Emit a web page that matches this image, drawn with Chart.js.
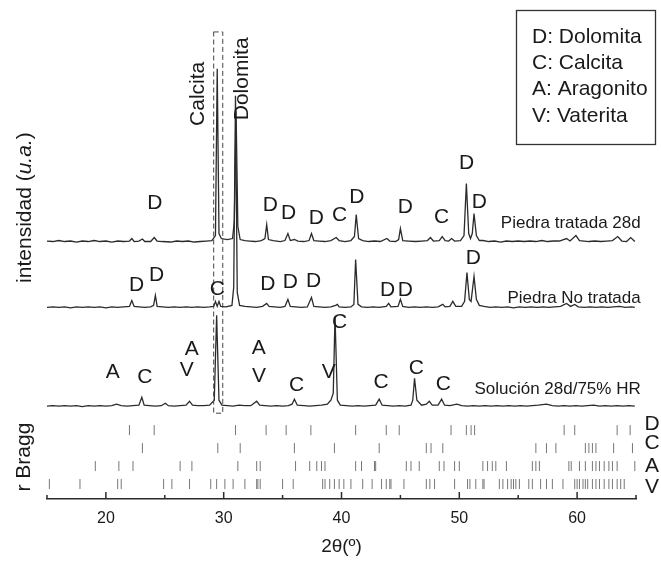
<!DOCTYPE html>
<html>
<head>
<meta charset="utf-8">
<title>DRX</title>
<script src="https://cdn.jsdelivr.net/npm/chart.js@4.4.0/dist/chart.umd.min.js"></script>
<style>
  html, body { margin: 0; padding: 0; background: #fff; }
  #wrap { width: 661px; height: 567px; }
</style>
</head>
<body>
<div id="wrap"><canvas id="xrd" width="661" height="567"></canvas></div>
<script>
/* ================= DATA ================= */

// 2θ axis
const xMin = 15, xMax = 65;
const xTickValues = [15, 20, 25, 30, 35, 40, 45, 50, 55, 60, 65];

// patterns: [2θ, intensity above its own baseline] (u.a.)
const treated28d = [
  [15.0,0.5],[15.5,0],[16.0,1],[16.5,0],[17.0,0.5],[17.5,-0.5],[18.0,0.5],[18.5,0],[19.0,1],[19.5,0],
  [20.0,0.5],[20.5,-0.5],[21.0,0.5],[21.5,0],[22.0,0.5],[22.2,3],[22.4,0],[22.8,0.5],[23.1,2.5],[23.3,0],
  [23.8,0],[24.1,4],[24.35,0.5],[24.8,0],[25.5,-0.5],[26.0,0.5],[26.5,0],[27.0,0.5],[27.5,-0.5],[28.0,0],
  [28.5,0.5],[29.0,1],[29.3,6],[29.45,173],[29.6,8],[29.8,3],[30.3,2],[30.75,3],[30.9,20],[31.05,131],
  [31.2,15],[31.4,2],[31.8,1],[32.2,0.5],[32.7,0],[33.2,1],[33.5,3],[33.65,17],[33.8,2],[34.2,1],
  [34.8,0],[35.2,1],[35.45,8],[35.65,1],[36.0,2],[36.3,0.5],[36.8,0],[37.25,1],[37.45,8],[37.65,1],
  [38.1,0.5],[38.6,0],[39.1,1],[39.55,4],[39.8,1],[40.3,0],[40.8,1],[41.1,5],[41.25,27],[41.45,3],
  [41.8,1],[42.3,0],[42.8,0.5],[43.3,0],[43.85,3],[44.1,0.5],[44.6,0],[44.85,2],[45.0,13],[45.2,1],
  [45.7,0.5],[46.3,0],[46.8,0.5],[47.3,1],[47.55,4],[47.8,0.5],[48.3,1],[48.55,5],[48.8,1],[49.1,0.5],
  [49.35,3],[49.6,0.5],[50.1,1],[50.4,6],[50.6,58],[50.8,8],[50.95,3],[51.1,8],[51.25,28],[51.45,6],
  [51.7,1],[52.0,1],[52.5,0],[53.0,0.5],[53.5,-0.5],[54.0,0.5],[54.5,0],[55.0,0.5],[55.5,0],[56.0,0.5],
  [56.5,0],[57.0,1],[57.5,0],[58.0,0.5],[58.5,0.5],[59.1,3],[59.4,0.5],[59.9,6],[60.2,1],[60.6,0.5],
  [61.0,0],[61.5,0.5],[62.0,0],[62.5,0.5],[63.0,1],[63.45,5],[63.8,0.5],[64.2,0],[64.55,4],[64.9,0]
];

const untreated = [
  [15.0,0],[15.5,0.5],[16.0,0],[16.5,0.5],[17.0,-0.5],[17.5,0.5],[18.0,0],[18.5,0.5],[19.0,0],[19.5,0.5],
  [20.0,-0.5],[20.5,0.5],[21.0,0],[21.5,0.5],[22.0,1],[22.2,7],[22.4,1],[22.8,0.5],[23.3,0],[23.8,0.5],
  [24.05,2],[24.2,12],[24.35,1],[24.8,0.5],[25.3,0],[25.8,0.5],[26.3,0],[26.8,0.5],[27.3,0],[27.8,0.5],
  [28.3,0],[28.8,0.5],[29.15,1],[29.3,6],[29.45,1],[29.6,6],[29.75,1],[30.2,0.5],[30.7,2],[30.85,20],
  [31.0,212],[31.15,15],[31.35,2],[31.8,1],[32.3,0.5],[32.8,0],[33.3,1],[33.65,4],[33.85,1],[34.3,0.5],
  [34.8,0],[35.2,1],[35.45,8],[35.65,1],[36.1,0.5],[36.6,0],[37.1,0.5],[37.45,10],[37.65,1],[38.1,0.5],
  [38.6,0],[39.1,0.5],[39.5,2],[39.65,3],[39.8,0.5],[40.3,0],[40.8,0.5],[41.05,3],[41.2,48],[41.4,3],
  [41.7,0.5],[42.2,0],[42.7,0.5],[43.2,0],[43.8,1],[44.0,4],[44.2,0.5],[44.8,1],[45.0,8],[45.2,1],
  [45.7,0],[46.2,0.5],[46.7,0],[47.2,0.5],[47.7,0],[48.2,0.5],[48.6,3],[48.8,0.5],[49.2,1],[49.45,6],
  [49.7,1],[50.2,1],[50.45,6],[50.65,35],[50.85,8],[51.0,6],[51.25,31],[51.45,8],[51.7,2],[52.1,1],
  [52.6,0],[53.1,0.5],[53.6,0],[54.1,0.5],[54.6,-0.5],[55.1,0.5],[55.6,0],[56.1,0.5],[56.6,0],[57.1,0.5],
  [57.6,0],[58.1,0.5],[58.6,1],[59.1,4],[59.45,1],[59.8,3],[60.1,0.5],[60.6,0],[61.1,0.5],[61.6,0],
  [62.1,0.5],[62.6,0],[63.1,0.5],[63.6,1],[64.1,0],[64.6,0.5],[64.9,0]
];

const solution28d = [
  [15.0,0],[15.5,0.5],[16.0,0],[16.5,0.5],[17.0,0],[17.5,0.5],[18.0,-0.5],[18.5,0.5],[19.0,0],[19.5,0.5],
  [20.0,0],[20.5,0.5],[20.9,2],[21.3,0.5],[21.8,0],[22.3,0.5],[22.8,1],[23.05,9],[23.25,1],[23.7,0.5],
  [24.2,0],[24.7,0.5],[25.05,3],[25.3,0.5],[25.8,0],[26.3,0.5],[26.8,1],[27.1,5],[27.35,1],[27.8,0.5],
  [28.3,0.5],[28.8,1],[29.2,6],[29.4,91],[29.6,6],[29.85,1],[30.3,0.5],[30.8,0],[31.3,1],[31.8,0.5],
  [32.3,0.5],[32.8,5],[33.05,1],[33.5,0.5],[34.0,0],[34.5,0.5],[35.0,0],[35.5,0.5],[35.8,2],[36.0,7],
  [36.25,1],[36.8,0.5],[37.3,0],[37.8,0.5],[38.3,1],[38.8,2],[39.1,6],[39.3,13],[39.45,90],[39.65,6],
  [39.9,1],[40.4,0.5],[40.9,0],[41.4,0.5],[41.9,0],[42.4,0.5],[42.9,1],[43.2,7],[43.45,1],[43.9,0.5],
  [44.4,0],[44.9,0.5],[45.4,0],[45.9,1],[46.05,6],[46.2,28],[46.4,6],[46.8,1],[47.2,2],[47.45,5],
  [47.7,1],[48.2,1],[48.5,7],[48.75,1],[49.2,0.5],[49.8,2],[50.2,0.5],[50.7,0],[51.2,0.5],[51.7,0],
  [52.2,0.5],[52.7,0],[53.2,0.5],[53.7,0],[54.2,0.5],[54.7,0],[55.2,0.5],[55.7,0],[56.2,0.5],[56.7,1],
  [57.4,2],[57.9,0.5],[58.4,0],[58.9,0.5],[59.4,0],[59.9,0.5],[60.4,0],[60.9,0.5],[61.4,1],[61.9,0],
  [62.4,0.5],[62.9,0],[63.4,0.5],[63.9,0],[64.4,0.5],[64.9,0]
];

// vertical offset of each stacked pattern (u.a.)
const offsetTreated = 258;
const offsetUntreated = 192;
const offsetSolution = 93;

// Bragg reflections (2θ) of each phase
const braggD = [22.0, 24.1, 31.0, 33.6, 35.3, 37.4, 41.2, 43.8, 44.9, 49.3, 50.6, 51.0, 51.3, 58.9, 59.8, 63.4, 64.5];
const braggC = [23.1, 29.5, 31.4, 36.0, 39.4, 43.2, 47.2, 47.6, 48.6, 56.5, 57.4, 58.2, 60.7, 61.0, 61.3, 61.6, 63.1, 64.7];
const braggA = [19.1, 21.1, 22.3, 26.3, 27.3, 31.2, 32.8, 33.1, 36.1, 37.3, 37.9, 38.3, 38.6,
  41.2, 41.7, 42.8, 42.9, 45.5, 45.9, 46.6, 48.3, 48.7, 49.6, 50.0, 52.0, 52.4, 52.8, 53.1, 54.0,
  56.2, 56.5, 56.8, 59.3, 59.5, 60.2, 60.7, 61.3, 61.6, 61.9, 62.3, 62.7, 63.0, 63.4, 64.9];
const braggV = [15.2, 17.8, 21.0, 21.3, 24.9, 25.6, 27.1, 28.9, 29.4, 30.1, 30.8, 31.8, 32.8, 32.9, 33.1,
  35.0, 35.9, 38.4, 38.6, 39.0, 39.4, 39.8, 40.2, 40.8, 41.8, 42.6, 43.4, 43.8, 44.1, 44.2, 45.3,
  47.2, 47.5, 47.9, 49.6, 50.7, 50.9, 51.4, 52.0, 52.1, 53.4, 53.7, 54.1, 54.4, 54.6, 54.8, 55.1,
  55.9, 56.2, 56.9, 57.4, 57.9, 58.8, 59.8, 60.0, 60.2, 60.5, 60.7, 60.9, 61.3, 61.6, 61.9, 62.3,
  62.7, 63.0, 63.4, 63.7, 64.0];
const braggRowD = 69, braggRowC = 51, braggRowA = 33, braggRowV = 15;

// phase letters over the peaks: [text, 2θ, height]
const peakLetters = [
  ['D', 24.15, 296], ['D', 33.96, 294], ['D', 35.51, 286], ['D', 37.86, 281], ['C', 39.83, 284],
  ['D', 41.3, 302], ['D', 45.42, 292], ['C', 48.5, 282], ['D', 50.62, 336], ['D', 51.69, 297],
  ['D', 22.6, 214], ['D', 24.3, 224], ['C', 29.47, 210], ['D', 33.75, 215], ['D', 35.65, 217],
  ['D', 37.63, 218], ['D', 43.92, 209], ['D', 45.42, 209], ['D', 51.19, 241],
  ['A', 20.59, 127], ['C', 23.31, 122], ['A', 27.29, 150], ['V', 26.86, 129], ['A', 32.97, 151],
  ['V', 33.0, 123], ['C', 36.19, 114], ['V', 38.92, 127], ['C', 39.83, 177], ['C', 43.35, 117],
  ['C', 46.36, 131], ['C', 48.64, 115]
];

const patternNames = [['Piedra tratada 28d', 276], ['Piedra No tratada', 201], ['Solución 28d/75% HR', 110]];
const legendLines = ['D: Dolomita', 'C: Calcita', 'A: Aragonito', 'V: Vaterita'];

/* ================= HELPERS ================= */

function shifted(profile, offset) {
  return profile.map(p => ({ x: p[0], y: p[1] + offset }));
}

function braggRow(list, row) {
  return list.map(v => ({ x: v, y: row }));
}

const FONT = "'Liberation Sans', Arial, Helvetica, sans-serif";
const INK = '#2b2b2b';

function traceSet(data) {
  return {
    data: data,
    showLine: true,
    borderColor: INK,
    borderWidth: 1.3,
    pointRadius: 0,
    tension: 0
  };
}

function tickSet(data) {
  return {
    data: data,
    showLine: false,
    pointStyle: 'line',
    rotation: 90,
    radius: 5,
    borderColor: '#777',
    borderWidth: 1,
    pointHoverRadius: 5
  };
}

/* ================= DECORATION PLUGIN ================= */

const decorations = {
  id: 'decorations',
  afterDatasetsDraw(chart) {
    const { ctx, chartArea } = chart;
    const xs = chart.scales.x, ys = chart.scales.y;
    ctx.save();

    // inward ticks on the 2θ axis
    ctx.strokeStyle = INK;
    ctx.lineWidth = 1.5;
    xTickValues.forEach(v => {
      const px = xs.getPixelForValue(v);
      const len = v % 10 === 0 ? 7 : 4;
      ctx.beginPath();
      ctx.moveTo(px, chartArea.bottom);
      ctx.lineTo(px, chartArea.bottom - len);
      ctx.stroke();
    });

    // dashed box around the main calcite reflection
    ctx.strokeStyle = '#444';
    ctx.lineWidth = 1;
    ctx.setLineDash([5, 3]);
    const bx0 = xs.getPixelForValue(29.15), bx1 = xs.getPixelForValue(29.92);
    const by0 = ys.getPixelForValue(468), by1 = ys.getPixelForValue(86);
    ctx.strokeRect(bx0, by0, bx1 - bx0, by1 - by0);
    ctx.setLineDash([]);

    ctx.fillStyle = '#1a1a1a';
    ctx.textAlign = 'center';
    ctx.textBaseline = 'middle';

    // phase letters
    ctx.font = '21px ' + FONT;
    peakLetters.forEach(l => {
      ctx.fillText(l[0], xs.getPixelForValue(l[1]), ys.getPixelForValue(l[2]));
    });

    // Bragg row letters
    const rx = chartArea.right + 16;
    [['D', 75], ['C', 56], ['A', 33], ['V', 12]].forEach(r => {
      ctx.fillText(r[0], rx, ys.getPixelForValue(r[1]));
    });

    // pattern names
    ctx.font = '17px ' + FONT;
    ctx.textAlign = 'right';
    patternNames.forEach(n => {
      ctx.fillText(n[0], xs.getPixelForValue(65.4), ys.getPixelForValue(n[1]));
    });

    // rotated phase names
    ctx.font = '21px ' + FONT;
    ctx.textAlign = 'center';
    [['Calcita', 27.8, 406], ['Dolomita', 31.55, 421]].forEach(t => {
      ctx.save();
      ctx.translate(xs.getPixelForValue(t[1]), ys.getPixelForValue(t[2]));
      ctx.rotate(-Math.PI / 2);
      ctx.fillText(t[0], 0, 0);
      ctx.restore();
    });

    // y titles
    ctx.save();
    ctx.translate(25, ys.getPixelForValue(292));
    ctx.rotate(-Math.PI / 2);
    const parts = [['intensidad (', '21px '], ['u.a.', 'italic 21px '], [')', '21px ']];
    let total = 0;
    parts.forEach(p => { ctx.font = p[1] + FONT; total += ctx.measureText(p[0]).width; });
    let cx = -total / 2;
    ctx.textAlign = 'left';
    parts.forEach(p => {
      ctx.font = p[1] + FONT;
      ctx.fillText(p[0], cx, 0);
      cx += ctx.measureText(p[0]).width;
    });
    ctx.restore();

    ctx.save();
    ctx.translate(24, ys.getPixelForValue(42));
    ctx.rotate(-Math.PI / 2);
    ctx.font = '21px ' + FONT;
    ctx.textAlign = 'center';
    ctx.fillText('r Bragg', 0, 0);
    ctx.restore();

    // legend box
    ctx.strokeStyle = '#333';
    ctx.lineWidth = 1.3;
    ctx.strokeRect(516.5, 10.5, 139, 134);
    ctx.font = '21px ' + FONT;
    ctx.textAlign = 'left';
    legendLines.forEach((t, i) => {
      ctx.fillText(t, 532, 37 + i * 26.3);
    });

    ctx.restore();
  }
};

/* ================= CHART ================= */

new Chart(document.getElementById('xrd'), {
  type: 'scatter',
  data: {
    datasets: [
      traceSet(shifted(treated28d, offsetTreated)),
      traceSet(shifted(untreated, offsetUntreated)),
      traceSet(shifted(solution28d, offsetSolution)),
      tickSet(braggRow(braggD, braggRowD)),
      tickSet(braggRow(braggC, braggRowC)),
      tickSet(braggRow(braggA, braggRowA)),
      tickSet(braggRow(braggV, braggRowV))
    ]
  },
  options: {
    responsive: false,
    animation: false,
    events: [],
    layout: { padding: { left: 47, right: 25, top: 0, bottom: 0 } },
    plugins: {
      legend: { display: false },
      tooltip: { enabled: false }
    },
    scales: {
      x: {
        type: 'linear',
        min: xMin,
        max: xMax,
        afterBuildTicks: axis => { axis.ticks = xTickValues.map(v => ({ value: v })); },
        afterFit: axis => { axis.height = 68; },
        grid: { display: false, drawTicks: false },
        border: { display: true, color: INK, width: 1.5 },
        ticks: {
          padding: 10,
          color: '#1a1a1a',
          font: { family: FONT, size: 16 },
          maxRotation: 0,
          callback: v => (v % 10 === 0 ? v : '')
        },
        title: {
          display: true,
          text: '2θ(º)',
          color: '#1a1a1a',
          font: { family: FONT, size: 19 },
          padding: { top: 8, bottom: 9 }
        }
      },
      y: {
        display: false,
        min: 0,
        max: 494
      }
    }
  },
  plugins: [decorations]
});
</script>
</body>
</html>
